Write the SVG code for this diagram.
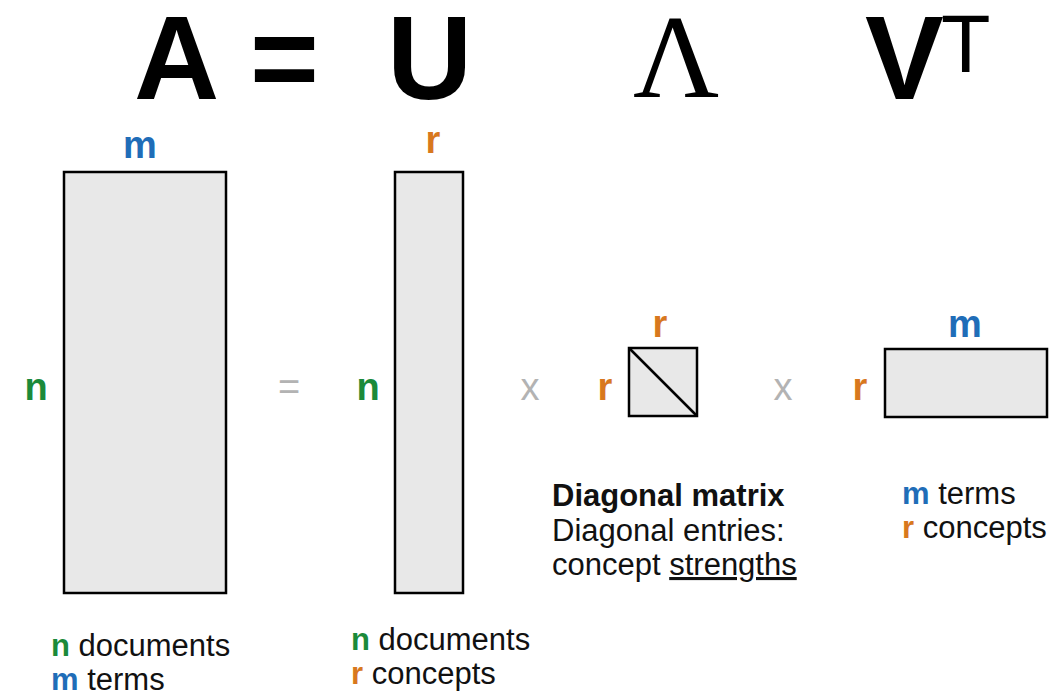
<svg xmlns="http://www.w3.org/2000/svg" width="1056" height="693" viewBox="0 0 1056 693">
<style>
.t{font-family:"Liberation Sans",Arial,sans-serif;fill:#000}
.big{font-weight:bold;font-size:118px}
.lbl{font-family:"Liberation Sans",Arial,sans-serif;font-weight:bold;font-size:38px}
.b{fill:#1f6db8}.g{fill:#1b8a3a}.o{fill:#d8781e}
.op{font-family:"Liberation Sans",Arial,sans-serif;font-size:38px;fill:#b3b3b3}
.mat{fill:#e8e8e8;stroke:#000;stroke-width:2.5}
.txt{font-family:"Liberation Sans",Arial,sans-serif;font-size:31px;fill:#111}
</style>
<rect width="1056" height="693" fill="#fff"/>
<g id="title">
<text class="t big" x="134" y="99">A</text>
<text class="t big" x="250" y="99">=</text>
<text class="t big" x="387" y="99">U</text>
<text x="633" y="97" style="font-family:'Liberation Serif','Times New Roman',serif;font-size:119px;fill:#000">Λ</text>
<text class="t big" x="865" y="99">V</text>
<text class="t" x="941" y="72" style="font-size:81px">T</text>
</g>
<g id="matrixA">
<rect class="mat" x="64" y="172" width="162" height="421"/>
<text class="lbl b" x="140" y="158" text-anchor="middle">m</text>
<text class="lbl g" x="36" y="400" text-anchor="middle">n</text>
<text class="txt" x="51" y="656"><tspan class="g" font-weight="bold">n</tspan> documents</text>
<text class="txt" x="51" y="690"><tspan class="b" font-weight="bold">m</tspan> terms</text>
</g>
<g id="matrixU">
<rect class="mat" x="395" y="172" width="68" height="421"/>
<text class="lbl o" x="433" y="153" text-anchor="middle">r</text>
<text class="lbl g" x="368" y="400" text-anchor="middle">n</text>
<text class="txt" x="351" y="650"><tspan class="g" font-weight="bold">n</tspan> documents</text>
<text class="txt" x="351" y="684"><tspan class="o" font-weight="bold">r</tspan> concepts</text>
</g>
<g id="matrixL">
<rect class="mat" x="629" y="348" width="68" height="68"/>
<line x1="629" y1="348" x2="697" y2="416" stroke="#000" stroke-width="2.5"/>
<text class="lbl o" x="660" y="337" text-anchor="middle">r</text>
<text class="lbl o" x="605" y="400" text-anchor="middle">r</text>
<text class="txt" x="552" y="506" font-weight="bold">Diagonal matrix</text>
<text class="txt" x="552" y="541">Diagonal entries:</text>
<text class="txt" x="552" y="575">concept <tspan text-decoration="underline">strengths</tspan></text>
</g>
<g id="matrixVT">
<rect class="mat" x="885" y="349" width="162" height="68"/>
<text class="lbl b" x="965" y="337" text-anchor="middle">m</text>
<text class="lbl o" x="860" y="400" text-anchor="middle">r</text>
<text class="txt" x="902" y="504"><tspan class="b" font-weight="bold">m</tspan> terms</text>
<text class="txt" x="902" y="538"><tspan class="o" font-weight="bold">r</tspan> concepts</text>
</g>
<g id="connectors">
<text class="op" x="289" y="400" text-anchor="middle">=</text>
<text class="op" x="530" y="400" text-anchor="middle">x</text>
<text class="op" x="783" y="400" text-anchor="middle">x</text>
</g>
</svg>
